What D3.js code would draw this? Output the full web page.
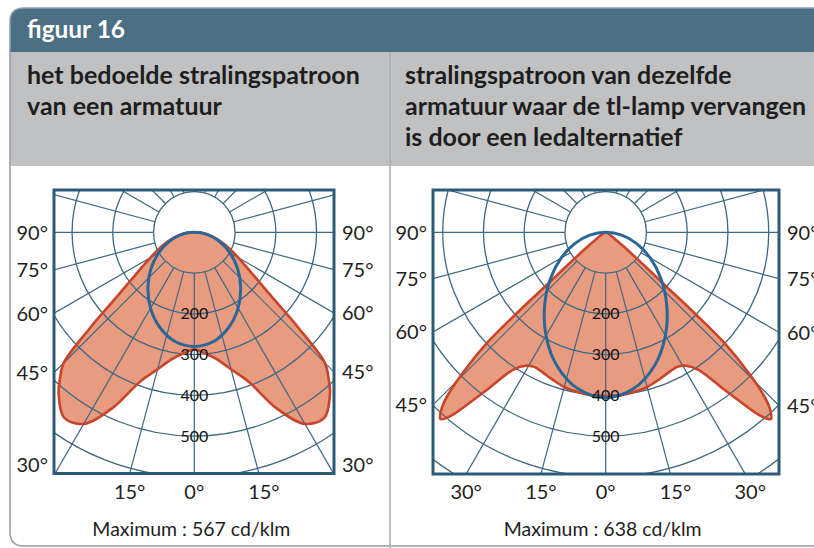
<!DOCTYPE html>
<html><head><meta charset="utf-8">
<script src="https://cdn.jsdelivr.net/npm/d3@7"></script>
<style>
html,body{margin:0;padding:0;background:#fff;}
svg{display:block;font-family:Lato,"Noto Sans",sans-serif;}
</style></head>
<body>
<svg id="c" width="814" height="548"></svg>
<script>
// ---------------- DATA ----------------
const titleText = "figuur 16";
const headingLeft = ["het bedoelde stralingspatroon", "van een armatuur"];
const headingRight = ["stralingspatroon van dezelfde", "armatuur waar de tl-lamp vervangen", "is door een ledalternatief"];

const ringValues = [100, 200, 300, 400, 500, 600, 700, 800];     // cd/klm circles
const ringLabelValues = [200, 300, 400, 500];                    // labelled circles
const spokeDegrees = d3.range(0, 360, 15);                       // radial grid lines
const sideTickDegrees = [90, 75, 60, 45, 30];                    // angle tick labels
const bottomTickDegrees = [30, 15, 0];

// left: intended pattern (C0-C180 plane, symmetric) — angle from nadir (deg), intensity (cd/klm)
const leftRedAngles = [0, 5, 10, 15, 20, 25, 30, 35, 40, 42.5, 45, 47.5, 50, 55, 60, 65, 70, 75, 80, 85, 90];
const leftRedValues = [287, 298, 316, 348, 390, 476, 543, 556, 518, 488, 453, 345, 254, 168, 125, 96, 72, 53, 35, 17, 0];
// left: C90-C270 plane
const leftBlueAngles = [0, 10, 20, 30, 40, 50, 60, 70, 80, 90];
const leftBlueValues = [280, 272, 248, 215, 177, 139, 101, 66, 33, 0];
const leftMaximum = "Maximum : 567 cd/klm";

// right: LED replacement (C0-C180 plane, symmetric)
const rightRedAngles = [0, 5, 10, 15, 20, 25, 28, 31, 34, 37, 39, 40, 41.5, 43, 44, 45.5, 47, 47.7, 48.2, 49, 50, 52, 55, 60, 75, 90];
const rightRedValues = [403, 402, 398, 393, 384, 376, 374, 382, 407, 484, 550, 585, 612, 590, 561, 490, 399, 295, 194, 140, 93, 50, 25, 12, 4, 0];
// right: C90-C270 plane
const rightBlueAngles = [0, 10, 20, 30, 40, 50, 60, 70, 80, 90];
const rightBlueValues = [406, 390, 349, 293, 233, 177, 126, 81, 40, 0];
const rightMaximum = "Maximum : 638 cd/klm";

// ---------------- STYLE / LAYOUT ----------------
const C = {
  header: "#4b6f83", band: "#c0c1c3", border: "#8d9ead", divider: "#9fb1bd",
  grid: "#3d6882", frame: "#2c5a77", redFill: "#e99b80", redStroke: "#c8452b",
  blue: "#2a6798", text: "#1e1e1e"
};
const svg = d3.select("#c");
const FONT = "Lato, 'Noto Sans', sans-serif";

// card background
const cardX = 10, cardY = 8, cardB = 546, rad = 14, hdrB = 52, bandB = 166, divX = 390;
svg.append("path")
  .attr("d", `M${cardX},${hdrB} L${cardX},${cardY + rad} Q${cardX},${cardY} ${cardX + rad},${cardY} L830,${cardY} L830,${hdrB} Z`)
  .attr("fill", C.header);
svg.append("rect").attr("x", cardX).attr("y", hdrB).attr("width", 830).attr("height", bandB - hdrB).attr("fill", C.band);
svg.append("path")
  .attr("d", `M830,${cardY} L${cardX + rad},${cardY} Q${cardX},${cardY} ${cardX},${cardY + rad} L${cardX},${cardB - rad} Q${cardX},${cardB} ${cardX + rad},${cardB} L830,${cardB}`)
  .attr("fill", "none").attr("stroke", C.border).attr("stroke-width", 1.5);
svg.append("line").attr("x1", divX).attr("x2", divX).attr("y1", hdrB).attr("y2", 548)
  .attr("stroke", C.divider).attr("stroke-width", 1.5);

function fit(sel, target) {
  const w = sel.node().getComputedTextLength();
  const fs = parseFloat(sel.attr("font-size"));
  sel.attr("font-size", (fs * target / w).toFixed(2));
  return fs * target / w;
}

// title
const t = svg.append("text").attr("x", 27).attr("y", 38).attr("font-family", FONT).attr("font-weight", 700)
  .attr("font-size", 20).attr("fill", "#fff").text(titleText);
fit(t, 98);

// headings
const hSize = (() => {
  const probe = svg.append("text").attr("font-family", FONT).attr("font-weight", 700).attr("font-size", 20).text(headingLeft[0]);
  const w = probe.node().getComputedTextLength(); probe.remove();
  return 20 * 333 / w;
})();
headingLeft.forEach((s, i) => svg.append("text").attr("x", 27).attr("y", 84 + i * 31)
  .attr("font-family", FONT).attr("font-weight", 700).attr("font-size", hSize).attr("fill", C.text).text(s));
headingRight.forEach((s, i) => svg.append("text").attr("x", 405).attr("y", 84 + i * 31)
  .attr("font-family", FONT).attr("font-weight", 700).attr("font-size", hSize).attr("fill", C.text).text(s));

// ---------------- POLAR CHARTS ----------------
const rScale = d3.scaleLinear().domain([0, 100]).range([0, 40.75]);
const aScale = d3.scaleLinear().domain([0, 360]).range([0, 2 * Math.PI]);

function drawChart(cfg) {
  const g = svg.append("g");
  const { cx, cy, x0, x1, y0, y1 } = cfg;
  const clipId = "clip" + cfg.id;
  svg.append("defs").append("clipPath").attr("id", clipId)
    .append("rect").attr("x", x0).attr("y", y0).attr("width", x1 - x0).attr("height", y1 - y0);

  const pt = (deg, v, side) => {
    const a = aScale(deg), r = rScale(v);
    return [cx + side * r * Math.sin(a), cy + r * Math.cos(a)];
  };
  const closedPts = (angles, values) => {
    const pts = [];
    for (let i = angles.length - 1; i >= 0; i--) pts.push(pt(angles[i], values[i], -1));
    for (let i = 1; i < angles.length - 1; i++) pts.push(pt(angles[i], values[i], 1));
    return pts;
  };
  const line = d3.line().curve(d3.curveCatmullRomClosed.alpha(0.5));
  const redPath = line(closedPts(cfg.redA, cfg.redV));
  const bluePath = line(closedPts(cfg.blueA, cfg.blueV));

  g.append("path").attr("d", redPath).attr("fill", C.redFill);

  const grid = g.append("g").attr("clip-path", `url(#${clipId})`);
  grid.selectAll("circle").data(ringValues).join("circle")
    .attr("cx", cx).attr("cy", cy).attr("r", d => rScale(d))
    .attr("fill", "none").attr("stroke", C.grid).attr("stroke-width", 1.3);
  grid.selectAll("line").data(spokeDegrees).join("line")
    .attr("x1", d => pt(d, 100, 1)[0]).attr("y1", d => pt(d, 100, 1)[1])
    .attr("x2", d => pt(d, 1200, 1)[0]).attr("y2", d => pt(d, 1200, 1)[1])
    .attr("stroke", C.grid).attr("stroke-width", 1.2);

  g.append("path").attr("d", redPath).attr("fill", "none").attr("stroke", C.redStroke)
    .attr("stroke-width", 2.6).attr("stroke-linejoin", "round");
  g.append("path").attr("d", bluePath).attr("fill", "none").attr("stroke", C.blue).attr("stroke-width", 3);

  g.selectAll("text.ring").data(ringLabelValues).join("text").attr("class", "ring")
    .attr("x", cx).attr("y", d => cy + rScale(d) + 5.5).attr("text-anchor", "middle")
    .attr("font-family", FONT).attr("font-size", 16).attr("fill", "#111").text(d => d);

  g.append("rect").attr("x", x0).attr("y", y0).attr("width", x1 - x0).attr("height", y1 - y0)
    .attr("fill", "none").attr("stroke", C.frame).attr("stroke-width", 3);

  const fs = 20;
  const onSide = new Set();
  sideTickDegrees.forEach(d => {
    const a = aScale(d);
    const yyR = cy + (d === 90 ? 0 : (x1 - cx) / Math.tan(a));
    const yyL = cy + (d === 90 ? 0 : (cx - x0) / Math.tan(a));
    if (yyL <= y1 + 3) {
      onSide.add(d);
      g.append("text").attr("x", x0 - 6).attr("y", Math.min(yyL, y1 - 9) + fs * 0.36).attr("text-anchor", "end")
        .attr("font-family", FONT).attr("font-size", fs).attr("fill", C.text).text(d + "°");
    }
    if (yyR <= y1 + 3) {
      g.append("text").attr("x", x1 + 8).attr("y", Math.min(yyR, y1 - 9) + fs * 0.36).attr("text-anchor", "start")
        .attr("font-family", FONT).attr("font-size", fs).attr("fill", C.text).text(d + "°");
    }
  });
  bottomTickDegrees.forEach(d => {
    if (onSide.has(d)) return;
    const a = aScale(d);
    const dx = (y1 - cy) * Math.tan(a);
    [-1, 1].forEach(side => {
      if (d === 0 && side === 1) return;
      const x = cx + side * dx;
      g.append("text").attr("x", x + (side > 0 && d > 0 ? 5 : 0)).attr("y", 499).attr("text-anchor", "middle")
        .attr("font-family", FONT).attr("font-size", fs).attr("fill", C.text).text(d + "°");
    });
  });
  const m = g.append("text").attr("x", cx - 3).attr("y", 536).attr("text-anchor", "middle")
    .attr("font-family", FONT).attr("font-size", 18).attr("fill", C.text).text(cfg.maxText);
  fit(m, 198);
}

drawChart({ id: "L", cx: 194.3, cy: 232.3, x0: 54, x1: 334, y0: 190, y1: 473.5,
  redA: leftRedAngles, redV: leftRedValues, blueA: leftBlueAngles, blueV: leftBlueValues, maxText: leftMaximum });
drawChart({ id: "R", cx: 605.7, cy: 232.3, x0: 433, x1: 779, y0: 190, y1: 474,
  redA: rightRedAngles, redV: rightRedValues, blueA: rightBlueAngles, blueV: rightBlueValues, maxText: rightMaximum });
</script>
</body></html>
